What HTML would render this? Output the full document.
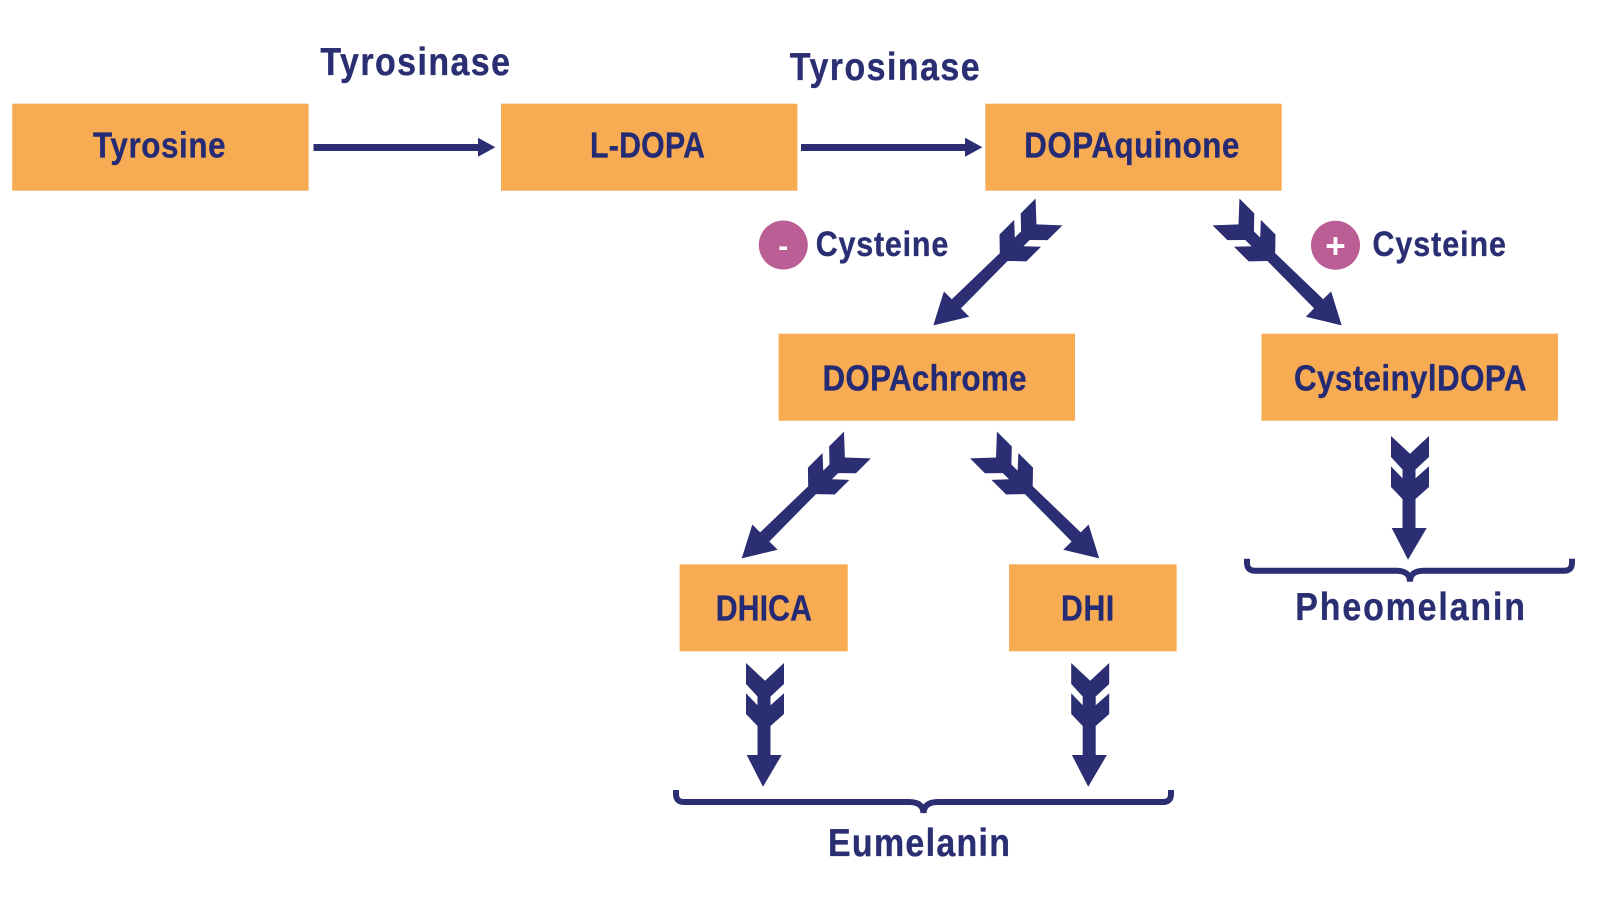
<!DOCTYPE html>
<html>
<head>
<meta charset="utf-8">
<style>
html,body{margin:0;padding:0;background:#fff;width:1600px;height:898px;overflow:hidden}
svg{display:block}
text{font-family:"Liberation Sans",sans-serif;font-weight:700;fill:#2a2e72}
.b{font-size:36px;fill:#252a74;stroke:#252a74;stroke-width:.35px}
.l{font-size:39px;stroke:#2a2e72;stroke-width:.35px}
.c{font-size:35px;stroke:#2a2e72;stroke-width:.35px}
rect{fill:#f7ab52}
.n{fill:#2b2e72}
.br{fill:none;stroke:#2b2e72;stroke-width:6}
</style>
</head>
<body>
<svg width="1600" height="898" viewBox="0 0 1600 898" xmlns="http://www.w3.org/2000/svg">
<defs>
<polygon id="d" class="n" points="-19,0 0,17.7 19,0 19,21 5.5,33.5 5.5,42.3 19,30.3 19,51 5.5,63 5.5,92 16.7,92 -2,123.7 -18.3,92 -7.5,92 -7.5,63 -19,51 -19,30.3 -7.5,42.3 -7.5,33.5 -19,21"/>
<polygon id="g" class="n" points="-19,0 0,17.7 19,0 19,21 6,33.5 6,42.3 19,30.3 19,51 5.6,64 7,130.5 18.1,130.5 1.6,162 -17.7,130.5 -5.9,130.5 -5.4,64 -19,51 -19,30.3 -6.2,42.3 -6.2,33.5 -19,21"/>
</defs>

<rect x="12.2" y="103.7" width="296.4" height="87"/>
<rect x="501" y="103.7" width="296.4" height="87"/>
<rect x="985.3" y="103.7" width="296.4" height="87"/>
<rect x="778.6" y="333.7" width="296.4" height="87"/>
<rect x="1261.5" y="333.7" width="296.4" height="87"/>
<rect x="679.6" y="564.3" width="168.1" height="87"/>
<rect x="1009" y="564.3" width="167.6" height="87"/>

<text class="b" transform="translate(93,157.3) scale(.87,1)" textLength="152.3" lengthAdjust="spacing">Tyrosine</text>
<text class="b" transform="translate(590,157.3) scale(.84,1)" textLength="136.9" lengthAdjust="spacing">L-DOPA</text>
<text class="b" transform="translate(1024.3,157.3) scale(.87,1)" textLength="247.1" lengthAdjust="spacing">DOPAquinone</text>
<text class="b" transform="translate(822.5,390.5) scale(.87,1)" textLength="234.5" lengthAdjust="spacing">DOPAchrome</text>
<text class="b" transform="translate(1294,390.5) scale(.87,1)" textLength="267.2" lengthAdjust="spacing">CysteinylDOPA</text>
<text class="b" transform="translate(715.7,620.3) scale(.84,1)" textLength="114.6" lengthAdjust="spacing">DHICA</text>
<text class="b" transform="translate(1061,620.3) scale(.84,1)" textLength="63.5" lengthAdjust="spacing">DHI</text>

<text class="l" transform="translate(320.4,75) scale(.87,1)" textLength="217.9" lengthAdjust="spacing">Tyrosinase</text>
<text class="l" transform="translate(789.8,80) scale(.87,1)" textLength="218.2" lengthAdjust="spacing">Tyrosinase</text>
<text class="c" transform="translate(815.7,256) scale(.87,1)" textLength="152.4" lengthAdjust="spacing">Cysteine</text>
<text class="c" transform="translate(1372.5,256) scale(.87,1)" textLength="153.4" lengthAdjust="spacing">Cysteine</text>
<text class="l" transform="translate(1295.3,620) scale(.87,1)" textLength="264" lengthAdjust="spacing">Pheomelanin</text>
<text class="l" transform="translate(828,856) scale(.87,1)" textLength="209.2" lengthAdjust="spacing">Eumelanin</text>

<circle cx="783.3" cy="245" r="24.5" fill="#bb5e96"/>
<circle cx="1335.5" cy="245.3" r="24.5" fill="#bb5e96"/>
<text x="783.3" y="256" text-anchor="middle" font-size="30" style="fill:#fff">-</text>
<text x="1335.5" y="258" text-anchor="middle" font-size="35" style="fill:#fff">+</text>

<polygon class="n" points="313.5,144 478,144 478,137.7 495.4,147.3 478,156.7 478,151 313.5,151"/>
<polygon class="n" points="801,144 965,144 965,137.7 982.4,147.3 965,156.7 965,151 801,151"/>

<use href="#g" transform="translate(1049,211.9) rotate(45) scale(-1,1)"/>
<use href="#g" transform="translate(1226,211.9) rotate(-45)"/>
<use href="#g" transform="translate(857.4,445) rotate(45) scale(-1,1)"/>
<use href="#g" transform="translate(983.5,445) rotate(-45)"/>
<use href="#d" transform="translate(1410,436)"/>
<use href="#d" transform="translate(765,663)"/>
<use href="#d" transform="translate(1090.2,663)"/>

<path class="br" d="M676 790v4q0 8 8 8H909q14 0 14.5 11q.5-11 14.5-11H1163q8 0 8-8v-4"/>
<path class="br" d="M1247 558.7v4q0 8 8 8H1396q14 0 14 11q0-11 14-11H1564q8 0 8-8v-4"/>
</svg>
</body>
</html>
